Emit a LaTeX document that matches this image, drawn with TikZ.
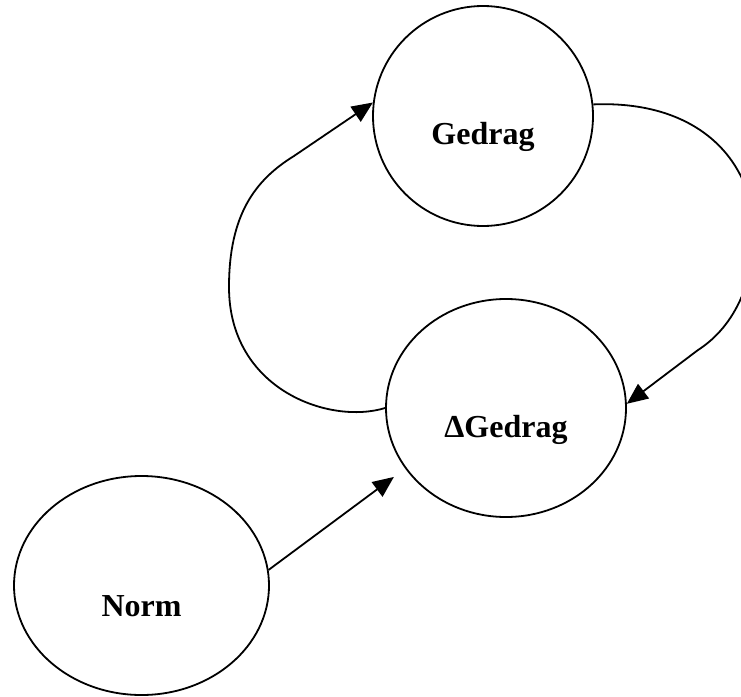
\documentclass[tikz,border=0pt]{standalone}
\usepackage{fontspec}
\setmainfont{Liberation Serif}
\usetikzlibrary{shapes.geometric,arrows.meta}
\tikzstyle{myellipse} = [draw=black, line width=1.8pt, ellipse, inner sep=0pt]
\tikzstyle{mytext} = [font=\fontsize{32}{38}\selectfont\bfseries]
\tikzstyle{myarrow} = [draw=black, line width=1.8pt, -{Triangle[length=21pt,width=18pt]}]

\begin{document}
\begin{tikzpicture}[x=1pt, y=-1pt]
    \useasboundingbox (0,0) rectangle (741,696);
    \node[myellipse, minimum width=220pt, minimum height=220pt,
          label={[mytext, yshift=-21pt]center:Gedrag}] (gedrag) at (483,116) {};
    \node[myellipse, minimum width=240pt, minimum height=218pt,
          label={[mytext, yshift=-22pt]center:ΔGedrag}] (dgedrag) at (506,408) {};
    \node[myellipse, minimum width=255pt, minimum height=219pt,
          label={[mytext, yshift=-21pt]center:Norm}] (norm) at (141.5,585.5) {};

    \draw[myarrow, shorten >=14pt] (norm.7.5) -- (dgedrag.211.4);
    \draw[myarrow] (dgedrag.west) .. controls (330,425) and (229,390) .. (229,287)
        .. controls (229,215) and (255,180) .. (294,156) -- (gedrag.173);
    \draw[myarrow] (gedrag.6) .. controls (700,100) and (754,162) .. (754,234)
        .. controls (754,278) and (737,325) .. (698,350) -- (dgedrag.2);
\end{tikzpicture}
\end{document}
